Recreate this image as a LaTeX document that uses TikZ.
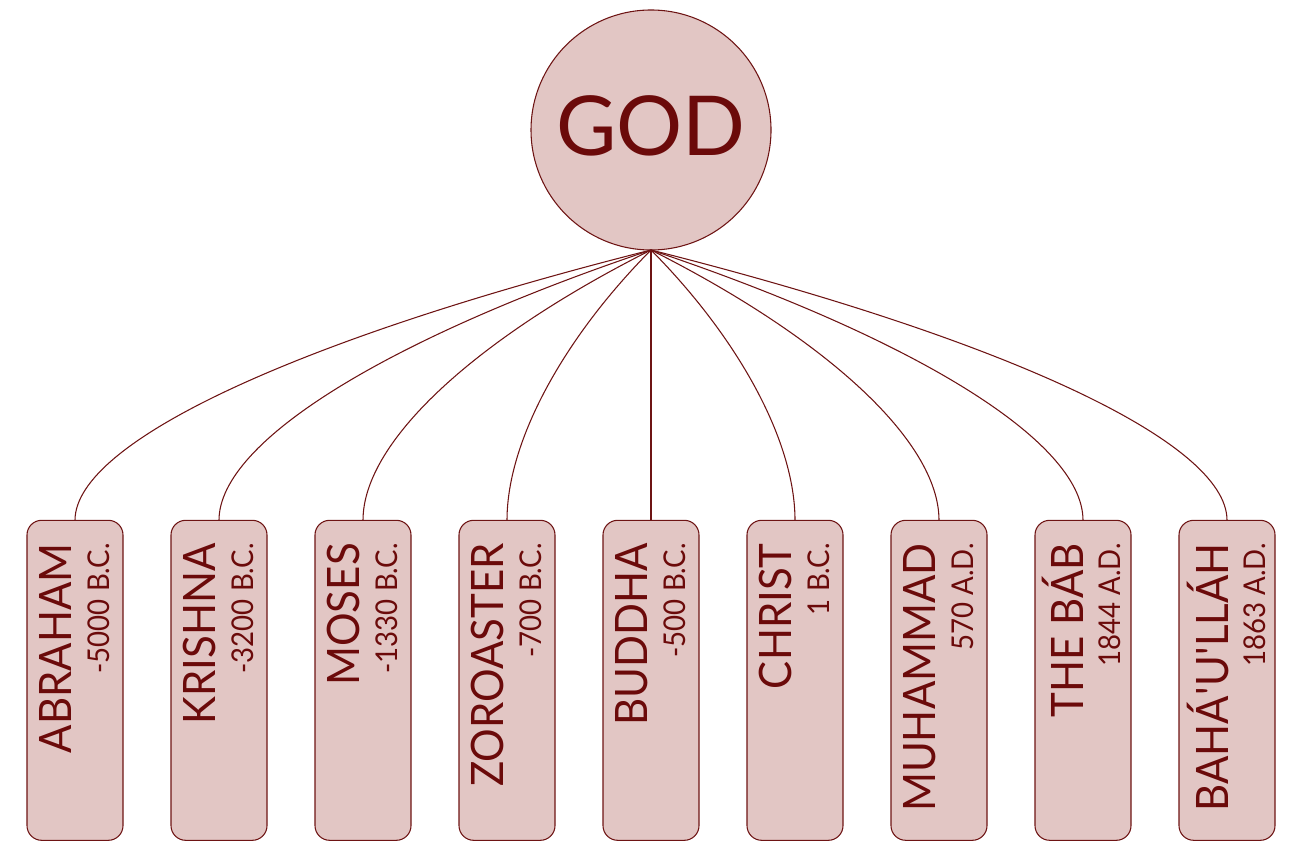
\documentclass[tikz,border=0pt]{standalone}
\usepackage{fontspec}
\setmainfont{Lato}
\newfontfamily\namefont[FakeStretch=0.94]{Lato}
\newfontfamily\datefont[FakeStretch=0.92]{Lato}
\usetikzlibrary{calc}
\definecolor{fillc}{HTML}{E2C6C4}
\definecolor{linec}{HTML}{6E1414}
\definecolor{textc}{HTML}{6B0A0A}
\begin{document}
\begin{tikzpicture}[x=0.75pt,y=-0.75pt,
  godnode/.style={circle,draw=linec,fill=fillc,line width=0.8pt,minimum size=180pt,inner sep=0pt,outer sep=0pt},
  godtext/.style={font=\fontsize{62}{62}\selectfont,text=textc,inner sep=0pt,anchor=base},
  personbox/.style={draw=linec,fill=fillc,line width=0.8pt,rounded corners=11pt,minimum width=72pt,minimum height=240pt,inner sep=0pt,outer sep=0pt},
  nametext/.style={font=\namefont\fontsize{33.5}{33.5}\selectfont,text=textc,inner sep=0pt,rotate=90,anchor=base east},
  datetext/.style={font=\datefont\fontsize{22.5}{22.5}\selectfont,text=textc,inner sep=0pt,rotate=90,anchor=base east},
  link/.style={draw=linec,line width=0.8pt}]
\useasboundingbox (0,0) rectangle (1291,841);
\node[godnode] (god) at (651,130) {};
\node[godtext] (godlabel) at (651,156) {GOD};
\foreach \i/\x/\nm/\dt/\off in {
  1/75/ABRAHAM/-5000 B.C./0,
  2/219/KRISHNA/-3200 B.C./0,
  3/363/MOSES/-1330 B.C./0,
  4/507/ZOROASTER/-700 B.C./0,
  5/651/BUDDHA/-500 B.C./0,
  6/795/CHRIST/1 B.C./0,
  7/939/MUHAMMAD/570 A.D./0,
  8/1083/THE BÁB/1844 A.D./3.5,
  9/1227/BAHÁ\textquotesingle U\textquotesingle LLÁH/1863 A.D./4.5}{
  \node[personbox] (b\i) at (\x,680.3) {};
  \node[nametext] (n\i) at (\x-3.5+\off,543) {\nm};
  \node[datetext] (d\i) at (\x+34.3+\off,543) {\dt};
  \draw[link] (god.south) .. controls ($(god.south)+({-0.6*(651-\x)},87)$) and ($(b\i.north)+(0,-80)$) .. (b\i.north);
}
\end{tikzpicture}
\end{document}
